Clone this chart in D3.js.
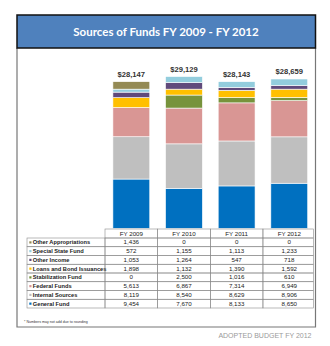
<!DOCTYPE html>
<html><head><meta charset="utf-8">
<script src="https://cdn.jsdelivr.net/npm/d3@7"></script>
<style>body{margin:0;background:#fff}svg{display:block}</style>
</head><body>
<svg id="c" width="330" height="346"></svg>
<script>
const years = ["FY 2009","FY 2010","FY 2011","FY 2012"];
const totalLabels = ["$28,147","$29,129","$28,143","$28,659"];
const seriesNames = ["Other Appropriations","Special State Fund","Other Income","Loans and Bond Issuances","Stabilization Fund","Federal Funds","Internal Sources","General Fund"];
const otherAppropriations = [1436,0,0,0];
const specialStateFund = [572,1155,1113,1233];
const otherIncome = [1053,1264,547,718];
const loansBond = [1898,1132,1390,1592];
const stabilizationFund = [0,2500,1016,610];
const federalFunds = [5613,6867,7314,6949];
const internalSources = [8119,8540,8629,8906];
const generalFund = [9454,7670,8133,8650];
const colors = ["#948A54","#93CDDD","#604A7B","#FFC000","#77933C","#D99694","#BFBFBF","#0070C0"];

const seriesValues = [otherAppropriations,specialStateFund,otherIncome,loansBond,stabilizationFund,federalFunds,internalSources,generalFund];
const keys = seriesNames.slice().reverse(); // bottom to top
const rows = years.map((y,i)=>{const o={year:y}; seriesNames.forEach((n,k)=>o[n]=seriesValues[k][i]); return o;});
const stacked = d3.stack().keys(keys)(rows);
const colorOf = d3.scaleOrdinal().domain(seriesNames).range(colors);

const svg = d3.select("#c");
// frame
svg.append("path").attr("d","M17,48 V327 H315.5 V48").attr("fill","none").attr("stroke","#777").attr("stroke-width",1.2);
svg.append("rect").attr("x",17).attr("y",15).attr("width",298.5).attr("height",33)
  .attr("fill","#4F81BD").attr("stroke","#111").attr("stroke-width",1.5);
svg.append("text").attr("x",166).attr("y",36).attr("text-anchor","middle")
  .attr("font-family","Lato, 'Open Sans', sans-serif").attr("font-weight","bold").attr("font-size",11.5)
  .attr("fill","#fff").text("Sources of Funds FY 2009 - FY 2012");

const x = d3.scaleBand().domain(years).range([105,315.6]).paddingInner(0.3).paddingOuter(0.15);
const y = d3.scaleLinear().domain([0,30000]).range([228.3,72]);

svg.append("g").selectAll("g").data(stacked).join("g").attr("fill",d=>colorOf(d.key))
  .selectAll("rect").data(d=>d).join("rect")
  .attr("x",d=>x(d.data.year)).attr("width",x.bandwidth())
  .attr("y",d=>y(d[1])).attr("height",d=>Math.max(0,y(d[0])-y(d[1])))
  .attr("stroke","#fff").attr("stroke-width",d=>(d[1]-d[0])>0?0.6:0);

const topLayer = stacked[stacked.length-1];
svg.append("g").selectAll("text").data(topLayer).join("text")
  .attr("x",d=>x(d.data.year)+x.bandwidth()/2).attr("y",d=>y(d[1])-5)
  .attr("text-anchor","middle").attr("font-family","'Liberation Sans', Arial, sans-serif").attr("font-weight","bold")
  .attr("font-size",7.6).attr("fill","#333").text((d,i)=>totalLabels[i]);

// table
const step = x.step();
const colLeft = i => 105 + i*step;
const tableTop = 229, hdrH = 9, rowH = 8.75, labelLeft = 27, tableRight = 313.5;
const tg = svg.append("g").attr("font-family","'Liberation Sans', Arial, sans-serif").attr("font-size",6.2).attr("fill","#222");
const lineC = "#8a8a8a";
years.forEach((yr,i)=>{
  tg.append("rect").attr("x",colLeft(i)).attr("y",tableTop).attr("width",i===3?tableRight-colLeft(i):step).attr("height",hdrH)
    .attr("fill","none").attr("stroke",lineC).attr("stroke-width",0.6);
  tg.append("text").attr("x",colLeft(i)+step/2).attr("y",tableTop+6.6).attr("text-anchor","middle").text(yr);
});
const fmt = d3.format(",");
seriesNames.forEach((n,r)=>{
  const ry = tableTop+hdrH+r*rowH;
  tg.append("rect").attr("x",labelLeft).attr("y",ry).attr("width",105-labelLeft).attr("height",rowH)
    .attr("fill","none").attr("stroke",lineC).attr("stroke-width",0.6);
  tg.append("rect").attr("x",labelLeft+2.3).attr("y",ry+3.3).attr("width",2.2).attr("height",2.2).attr("fill",colors[r]);
  tg.append("text").attr("x",labelLeft+5.8).attr("y",ry+6.4).attr("font-weight","bold").attr("font-size",5.7).text(n);
  years.forEach((yr,i)=>{
    tg.append("rect").attr("x",colLeft(i)).attr("y",ry).attr("width",i===3?tableRight-colLeft(i):step).attr("height",rowH)
      .attr("fill","none").attr("stroke",lineC).attr("stroke-width",0.6);
    tg.append("text").attr("x",colLeft(i)+step/2).attr("y",ry+6.4).attr("text-anchor","middle").text(fmt(seriesValues[r][i]));
  });
});
svg.append("text").attr("x",24).attr("y",323).attr("font-family","'Liberation Sans', Arial, sans-serif")
  .attr("font-size",3.6).attr("fill","#333").text("* Numbers may not add due to rounding");
svg.append("text").attr("x",311.5).attr("y",337.5).attr("text-anchor","end").attr("font-family","'Liberation Sans', Arial, sans-serif")
  .attr("font-size",7).attr("fill","#9a9a9a").text("ADOPTED BUDGET FY 2012");
</script>
</body></html>
